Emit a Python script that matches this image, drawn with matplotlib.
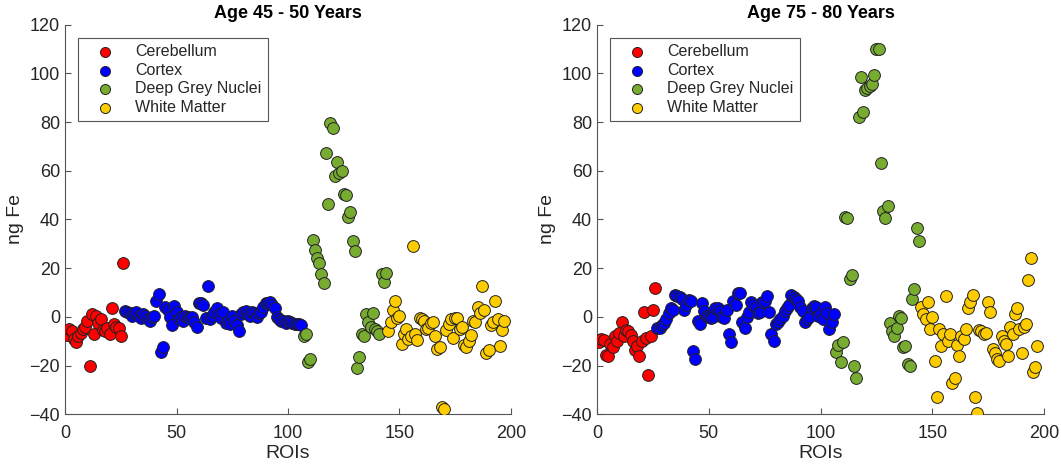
import numpy as np
import matplotlib
matplotlib.use("Agg")
from matplotlib import pyplot as plt

plt.rcParams['font.family'] = ['Liberation Sans', 'DejaVu Sans']

groups = ["Cerebellum", "Cortex", "Deep Grey Nuclei", "White Matter"]
colours = ["#ff0000", "#0000ff", "#77ac30", "#ffcc00"]

# ROI ranges per group (first ROI index of each group)
roi_start = [1, 27, 107, 145]

# age 45 - 50
cer_45 = [-7.5, -5, -6, -9, -10.5, -8, -6.5, -5, -4, -1.5, -20, 1, -7, 0.5, -2.5, -1,
          -5.5, -6, -4.5, -7, 3.5, -3, -4, -4.5, -8, 22]
ctx_45 = [2.5, 2, 1.5, 0.5, 1.5, 2, 0.5, -0.5, 1, 0.5, -1, -1.5, 0, 0.5, 6.5, 9.5,
          -14.5, -12.5, 4, 3, 0, -3.5, 4.5, 2, -1, 0, -1.5, 0.5, 0, -0.5, 0, -2,
          -4, 5.5, 5.5, 5, -0.5, 12.5, -1, 0.5, 2, 3.5, 1, -0.5, 2, -2.5, -1.5, -3,
          0.5, -1.5, -3.5, -6, 1, 2, 2.5, 1, 0.5, 2, 1.5, 0, 1.5, 2, 4, 5.5,
          5.5, 6, 5, 3.5, 0, -1, -1.5, -1.5, -2.5, -1.5, -2, -2.5, -3, -3, -3, -3.5]
dgn_45 = [-8, -7, -18.5, -17.5, 31.5, 27.5, 24, 22, 17.5, 14, 67.5, 46.5, 79.5, 77.5,
          58, 63.5, 59, 60, 50.5, 50, 41, 43, 31, 27, -21, -16.5, -7, -8,
          1, -2, -4, 1.5, -5, -6, -7, 17.5, 14.5, 18]
wm_45 = [-6, -2, 3, 6.5, -0.5, 0.5, -11, -7, -5, -9, -8, 29, -7, -9.5, -0.5, -1,
         -1.5, -5, -4.5, -2.5, -2, -8, -13, -12.5, -37, -38, -5.5, -3, -1, -8.5,
         -0.5, -0.5, -5, -4, -11.5, -12.5, -10, -7.5, -1.5, -2, 4, 1.5, 12.5, 3,
         -15, -13.5, -3.5, -2, 6.5, -1, -12, -5.5, -1.5]

# age 75 - 80
cer_75 = [-10.5, -9, -9.5, -15.5, -16, -11, -12.5, -8, -10, -6.5, -2, -8, -5.5, -6,
          -7.5, -10, -13.5, -12, -16, -10, 2, -8.5, -24, -8, 3, 12]
ctx_75 = [-4.5, -4.5, -3.5, -2.5, -1, 1.5, 3.5, 3, 9, 8.5, 8, 7.5, 3, 5, 7, 6.5,
          -14, -17.5, -1.5, -3, 5.5, 2.5, 0.5, 0, -0.5, 0, 3.5, 3.5, 2.5, 0, -0.5, 3,
          -7, -10.5, 6.5, 5, 10, 10, -2, -4.5, 0, 2, 6, 5, 3.5, 1.5, 2, 6,
          6.5, 8.5, 2, -7, -10, -3, -2, -1, 0.5, 2.5, 3.5, 5, 9, 8, 7.5, 6.5,
          4, 2.5, -2, -1, 0, 3.5, 4.5, 4, 0.5, 1.5, -1, 4, 1.5, -5, -2, 1]
dgn_75 = [-14.5, -11.5, -18.5, -10.5, 41, 40.5, 15.5, 17, -20, -25, 82, 98.5, 84, 93,
          94, 95, 95.5, 99.5, 110, 110, 63, 43.5, 40.5, 45.5, -2.5, -6, -8, -4.5,
          0.5, -0.5, -12.5, -12, -19.5, -20, 7.5, 11.5, 36.5, 31]
wm_75 = [4, 1, -1, 6, -5, 0, -18, -33, -5, -12, -7, 8.5, -10, -7, -27, -25, -11.5,
         -16, -8, -9, -5, 3.5, 6, 9, -33, -39.5, -5.5, -6, -7, -6.5, 6, 2, -13,
         -15, -17.5, -18, -8, -10, -11, -16, -4, -7, 1, 3.5, -5, -15, -4, -3, 15,
         24, -22.5, -20.5, -12]

panels = [("Age 45 - 50 Years", [cer_45, ctx_45, dgn_45, wm_45]),
          ("Age 75 - 80 Years", [cer_75, ctx_75, dgn_75, wm_75])]

fig = plt.figure(figsize=(10.61, 4.67), dpi=100)
axes_pos = [[0.0613, 0.1129, 0.4203, 0.8342], [0.5627, 0.1129, 0.4213, 0.8342]]

axis_grey = "#555555"
for pos, (title, series) in zip(axes_pos, panels):
    ax = fig.add_axes(pos)
    for name, col, start, vals in zip(groups, colours, roi_start, series):
        rois = np.arange(start, start + len(vals))
        ax.scatter(rois, vals, s=72, c=col, edgecolors="#222222", linewidths=0.7,
                   label=name, zorder=3)

    ax.set_xlim(0, 200)
    ax.set_ylim(-40, 120)
    ax.set_xticks([0, 50, 100, 150, 200])
    ax.set_yticks(np.arange(-40, 121, 20))
    ax.tick_params(direction="in", length=4, width=0.8, colors=axis_grey,
                   labelcolor="#262626", labelsize=13)
    ax.tick_params(axis="x", pad=8)
    for side in ["top", "right"]:
        ax.spines[side].set_visible(False)
    for side in ["left", "bottom"]:
        ax.spines[side].set_color(axis_grey)
        ax.spines[side].set_linewidth(0.8)

    ax.set_title(title, fontsize=13, fontweight="bold", pad=5)
    ax.set_xlabel("ROIs", fontsize=14, color="#262626", labelpad=2)
    ax.set_ylabel("ng Fe", fontsize=14, color="#262626", labelpad=4)

    leg = ax.legend(loc="upper left", bbox_to_anchor=(0.029, 0.966), borderaxespad=0,
                    fancybox=False, framealpha=1, edgecolor=axis_grey, fontsize=11.5,
                    markerscale=0.85, handlelength=2.6, handletextpad=0.6,
                    labelspacing=0.22, borderpad=0.4, scatterpoints=1)
    leg.get_frame().set_linewidth(0.8)
    for t in leg.get_texts():
        t.set_color("#262626")

fig.savefig("out.png", dpi=100)
